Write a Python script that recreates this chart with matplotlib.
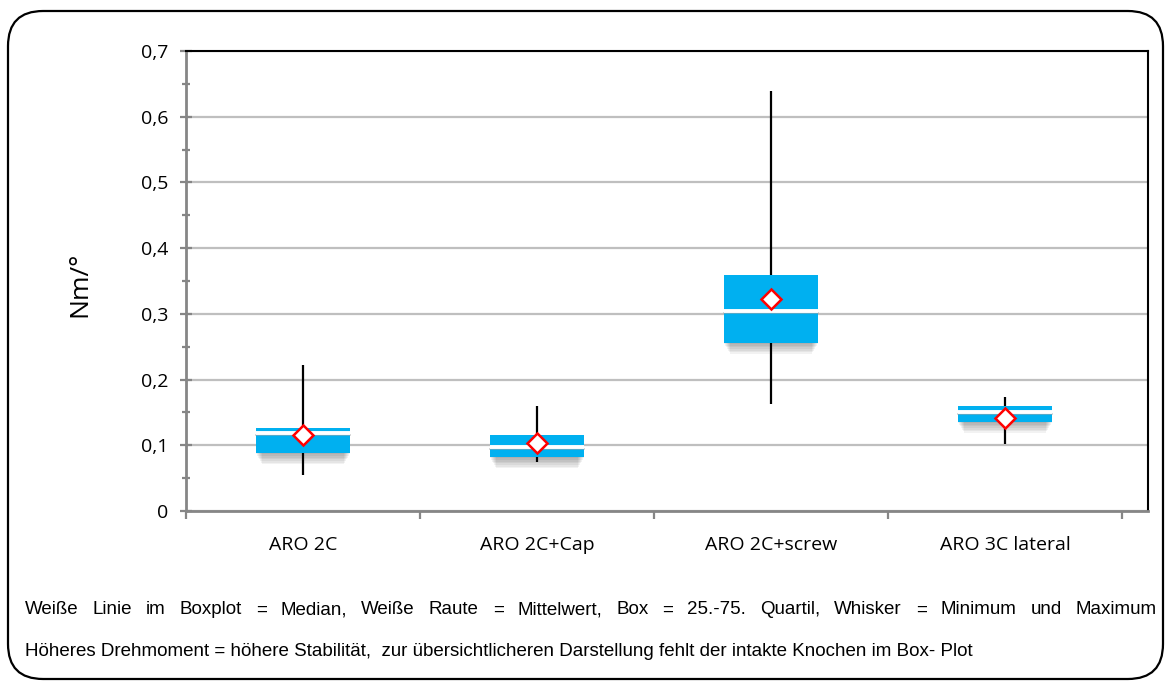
import numpy as np
from matplotlib import pyplot as plt
from matplotlib.patches import FancyBboxPatch, Rectangle
from matplotlib.ticker import MultipleLocator, FixedLocator, FuncFormatter

# box plot values (Nm/°)
groups = ["ARO 2C", "ARO 2C+Cap", "ARO 2C+screw", "ARO 3C lateral"]
minimum = [0.055, 0.075, 0.163, 0.102]
q1 = [0.088, 0.082, 0.256, 0.136]
median = [0.118, 0.097, 0.305, 0.150]
q3 = [0.127, 0.116, 0.359, 0.160]
maximum = [0.222, 0.160, 0.639, 0.173]
mean = [0.116, 0.104, 0.323, 0.142]

caption1 = "Weiße Linie im Boxplot = Median, Weiße Raute = Mittelwert, Box = 25.-75. Quartil, Whisker = Minimum und Maximum"
caption2 = "Höheres Drehmoment = höhere Stabilität,  zur übersichtlicheren Darstellung fehlt der intakte Knochen im Box- Plot"

blue = "#00b0f0"
grey_axis = "#868686"

fig = plt.figure(figsize=(11.71, 6.83), dpi=100)
ax = fig.add_axes([186 / 1171, 1 - 511 / 683, (1148 - 186) / 1171, (511 - 51) / 683])

x = np.arange(1, len(groups) + 1)
w = 0.4

for i in range(len(groups)):
    xi = x[i]
    # whisker
    ax.plot([xi, xi], [minimum[i], maximum[i]], color="black", lw=1.6, zorder=2, solid_capstyle="butt")
    # soft shadow under box
    for k in range(7):
        off = 0.002 + k * 0.0025
        shrink = 0.004 * k
        ax.add_patch(Rectangle((xi - w / 2 + shrink, q1[i] - off), w - 2 * shrink, q3[i] - q1[i],
                               facecolor="black", alpha=0.05, lw=0, zorder=2.5))
    ax.add_patch(Rectangle((xi - w / 2, q1[i]), w, q3[i] - q1[i], facecolor=blue, lw=0, zorder=3))
    # median: white line with faint shadow
    ax.plot([xi - w / 2, xi + w / 2], [median[i] - 0.003, median[i] - 0.003], color="#a6a6a6", lw=1.2, alpha=0.6, zorder=3.5)
    ax.plot([xi - w / 2, xi + w / 2], [median[i], median[i]], color="white", lw=2.8, zorder=3.6, solid_capstyle="butt")
    ax.plot(xi, mean[i], marker="D", markersize=10, markerfacecolor="white", markeredgecolor="red",
            markeredgewidth=1.8, zorder=5)

ax.set_ylim(0, 0.7)
ax.set_xlim(0.5, 4.5 + 26 / 234)
ax.yaxis.set_major_locator(MultipleLocator(0.1))
ax.yaxis.set_minor_locator(MultipleLocator(0.05))
ax.yaxis.set_major_formatter(FuncFormatter(lambda v, p: "0" if abs(v) < 1e-9 else ("%.1f" % v).replace(".", ",")))
ax.grid(axis="y", which="major", color="#bfbfbf", lw=1.6, zorder=0)
ax.set_axisbelow(True)

ax.xaxis.set_major_locator(FixedLocator([0.5, 1.5, 2.5, 3.5, 4.5]))
ax.xaxis.set_major_formatter(FuncFormatter(lambda v, p: ""))
ax.xaxis.set_minor_locator(FixedLocator(x))
ax.set_xticklabels(groups, minor=True)
ax.tick_params(axis="x", which="major", direction="out", length=6, width=1.6, color=grey_axis)
ax.tick_params(axis="x", which="minor", length=0, pad=18, labelsize=14)
ax.tick_params(axis="y", which="major", direction="inout", length=9, width=1.6, color=grey_axis, labelsize=14, pad=8)
ax.tick_params(axis="y", which="minor", direction="inout", length=6, width=1.6, color=grey_axis)
for lab in ax.get_xticklabels(minor=True) + ax.get_yticklabels():
    lab.set_fontfamily("Open Sans")

ax.spines["left"].set_color(grey_axis)
ax.spines["left"].set_linewidth(2)
ax.spines["bottom"].set_color(grey_axis)
ax.spines["bottom"].set_linewidth(2)
ax.spines["top"].set_color("black")
ax.spines["top"].set_linewidth(1.5)
ax.spines["right"].set_color("black")
ax.spines["right"].set_linewidth(1.5)

fig.text(80 / 1171, 1 - 284 / 683, "Nm/°", rotation=90, ha="center", va="center", fontsize=19, family="Open Sans")

# outer rounded frame
fig.patches.append(FancyBboxPatch((8 / 1171, 4 / 683), 1155 / 1171, 668 / 683,
                                  boxstyle="round,pad=0,rounding_size=0.03", transform=fig.transFigure,
                                  facecolor="none", edgecolor="black", lw=1.6, mutation_aspect=1171 / 683))

# captions: first line justified between x=25 and 1157
cap_size = 13.5
words = caption1.split(" ")
y1 = 1 - 610 / 683
tx = [fig.text(0, y1, wd, ha="left", va="center", fontsize=cap_size, family="Liberation Sans") for wd in words]
fig.canvas.draw()
r = fig.canvas.get_renderer()
widths = [t.get_window_extent(r).width for t in tx]
gap = (1157 - 25 - sum(widths)) / (len(words) - 1)
pos = 25
for t, wd in zip(tx, widths):
    t.set_x(pos / 1171)
    pos += wd + gap
fig.text(25 / 1171, 1 - 652 / 683, caption2, ha="left", va="center", fontsize=cap_size, family="Liberation Sans")

fig.savefig("out.png", dpi=100)
